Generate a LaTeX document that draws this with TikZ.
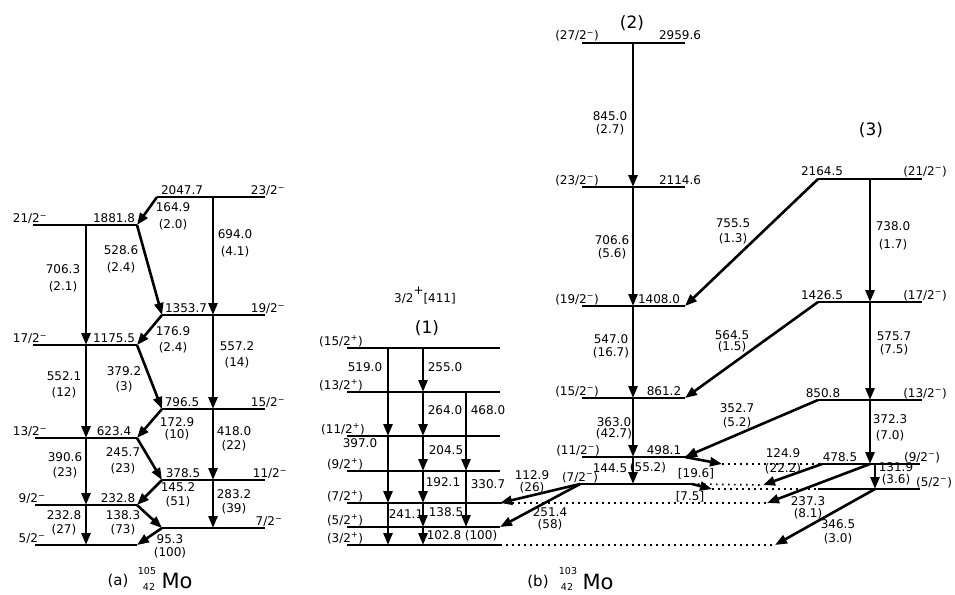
\documentclass[tikz,border=0pt]{standalone}
\usepackage{fontspec}
\setmainfont{DejaVu Sans}
\usetikzlibrary{arrows.meta}

\tikzset{
  level/.style={line width=1.8pt},
  ext/.style={line width=1.7pt, dash pattern=on 1.7pt off 4.3pt},
  gam/.style={line width=2.6pt, -{Triangle[length=12pt,width=9pt]}},
  en/.style={anchor=base, inner sep=0pt, font=\fontsize{12}{14}\selectfont},
  gl/.style={align=center, inner sep=0pt, font=\fontsize{12}{15}\selectfont},
  band/.style={inner sep=0pt, font=\fontsize{17}{20}\selectfont},
  nuc/.style={inner sep=0pt, font=\fontsize{9.5}{11}\selectfont},
}
% level: name, x left, x right, y
\newcommand{\lvl}[4]{\draw[level] (#2,#4) coordinate (#1l) -- (#3,#4) coordinate (#1r);}
\newcommand{\mn}{\textsuperscript{−}}
\newcommand{\pl}{\textsuperscript{+}}

\begin{document}
\begin{tikzpicture}[x=1pt, y=-1pt]
  \useasboundingbox (0,0) rectangle (955,594);

  % columns of the vertical transitions
  \coordinate (xa1) at (86,0);
  \coordinate (xa2) at (213,0);
  \coordinate (xb1) at (388,0);
  \coordinate (xb2) at (423,0);
  \coordinate (xb3) at (466,0);
  \coordinate (xc) at (633,0);
  \coordinate (xd1) at (870,0);
  \coordinate (xd2) at (875,0);

  % ---------------- (a) 105Mo ----------------
  \lvl{a2047}{157}{265}{197}
  \lvl{a1881}{33}{137}{225}
  \lvl{a1353}{162}{265}{315}
  \lvl{a1175}{33}{137}{345}
  \lvl{a796}{162}{265}{409}
  \lvl{a623}{35}{137}{438}
  \lvl{a378}{162}{265}{480}
  \lvl{a232}{35}{137}{505}
  \lvl{a95}{162}{265}{528}
  \lvl{a0}{35}{137}{545}

  \node[en] (ea2047) at (182,194.5) {2047.7};
  \node[en] (sa2047) at (268,194.5) {23/2\mn};
  \node[en] (sa1881) at (30,222.5) {21/2\mn};
  \node[en] (ea1881) at (114,222.5) {1881.8};
  \node[en] (ea1353) at (186,312.5) {1353.7};
  \node[en] (sa1353) at (268,312.5) {19/2\mn};
  \node[en] (sa1175) at (30,342.5) {17/2\mn};
  \node[en] (ea1175) at (114,342.5) {1175.5};
  \node[en] (ea796) at (182,406.5) {796.5};
  \node[en] (sa796) at (268,406.5) {15/2\mn};
  \node[en] (sa623) at (30,435.5) {13/2\mn};
  \node[en] (ea623) at (114,435.5) {623.4};
  \node[en] (ea378) at (183,477.5) {378.5};
  \node[en] (sa378) at (270,477.5) {11/2\mn};
  \node[en] (sa232) at (32,502.5) {9/2\mn};
  \node[en] (ea232) at (118,502.5) {232.8};
  \node[en] (sa95) at (269,525.5) {7/2\mn};
  \node[en] (sa0) at (32,542.5) {5/2\mn};

  \draw[gam] (a2047l) -- (a1881r);
  \draw[gam] (a2047l -| xa2) -- (a1353l -| xa2);
  \draw[gam] (a1881l -| xa1) -- (a1175l -| xa1);
  \draw[gam] (a1881r) -- (a1353l);
  \draw[gam] (a1353l) -- (a1175r);
  \draw[gam] (a1353l -| xa2) -- (a796l -| xa2);
  \draw[gam] (a1175l -| xa1) -- (a623l -| xa1);
  \draw[gam] (a1175r) -- (a796l);
  \draw[gam] (a796l) -- (a623r);
  \draw[gam] (a796l -| xa2) -- (a378l -| xa2);
  \draw[gam] (a623l -| xa1) -- (a232l -| xa1);
  \draw[gam] (a623r) -- (a378l);
  \draw[gam] (a378l) -- (a232r);
  \draw[gam] (a378l -| xa2) -- (a95l -| xa2);
  \draw[gam] (a232l -| xa1) -- (a0l -| xa1);
  \draw[gam] (a232r) -- (a95l);
  \draw[gam] (a95l) -- (a0r);

  \node[gl] (g164) at (173,216) {164.9\\[2pt](2.0)};
  \node[gl] (g694) at (235,243) {694.0\\[2pt](4.1)};
  \node[gl] (g706) at (63,278) {706.3\\[2pt](2.1)};
  \node[gl] (g528) at (121,259) {528.6\\[2pt](2.4)};
  \node[gl] (g176) at (173,340) {176.9\\[1pt](2.4)};
  \node[gl] (g557) at (237,355) {557.2\\[1pt](14)};
  \node[gl] (g552) at (64,385) {552.1\\[1pt](12)};
  \node[gl] (g379) at (124,379) {379.2\\(3)};
  \node[gl] (g172) at (177,429) {172.9\\[-3pt](10)};
  \node[gl] (g418) at (234,439) {418.0\\[-1pt](22)};
  \node[gl] (g390) at (65,465) {390.6\\(23)};
  \node[gl] (g245) at (123,461) {245.7\\[1pt](23)};
  \node[gl] (g145) at (178,495) {145.2\\[-1pt](51)};
  \node[gl] (g283) at (234,502) {283.2\\[-1pt](39)};
  \node[gl] (g232) at (64,523) {232.8\\[-1pt](27)};
  \node[gl] (g138) at (123,523) {138.3\\[-1pt](73)};
  \node[gl] (g95) at (170,546) {95.3\\[-2pt](100)};

  \node[inner sep=0pt, font=\fontsize{15}{17}\selectfont] (capa) at (118,581) {(a)};
  \node[nuc] (aa) at (147,571) {105};
  \node[nuc] (za) at (149,587) {42};
  \node[inner sep=0pt, font=\fontsize{21}{23}\selectfont] (moa) at (177,581) {Mo};

  % ---------------- (b) 103Mo, band (1) ----------------
  \lvl{b15}{347}{500}{348}
  \lvl{b13}{347}{500}{392}
  \lvl{b11}{347}{500}{436}
  \lvl{b9}{347}{500}{471}
  \lvl{b7}{347}{500}{503}
  \lvl{b5}{347}{500}{527}
  \lvl{b3}{347}{500}{545}

  \node[inner sep=0pt, font=\fontsize{12}{14}\selectfont] (k411) at (425,296) {3/2\raisebox{8pt}{+}[411]};
  \node[band] (bd1) at (427,328) {(1)};

  \node[en] (sb15) at (341,345) {(15/2\pl)};
  \node[en] (sb13) at (341,389) {(13/2\pl)};
  \node[en] (sb11) at (343,433) {(11/2\pl)};
  \node[en] (sb9) at (345,468) {(9/2\pl)};
  \node[en] (sb7) at (345,500) {(7/2\pl)};
  \node[en] (sb5) at (345,524) {(5/2\pl)};
  \node[en] (sb3) at (345,542) {(3/2\pl)};

  \draw[gam] (b15l -| xb1) -- (b11l -| xb1);
  \draw[gam] (b15l -| xb2) -- (b13l -| xb2);
  \draw[gam] (b13l -| xb2) -- (b11l -| xb2);
  \draw[gam] (b13l -| xb3) -- (b9l -| xb3);
  \draw[gam] (b11l -| xb1) -- (b7l -| xb1);
  \draw[gam] (b11l -| xb2) -- (b9l -| xb2);
  \draw[gam] (b9l -| xb2) -- (b7l -| xb2);
  \draw[gam] (b9l -| xb3) -- (b5l -| xb3);
  \draw[gam] (b7l -| xb1) -- (b3l -| xb1);
  \draw[gam] (b7l -| xb2) -- (b5l -| xb2);
  \draw[gam] (b5l -| xb2) -- (b3l -| xb2);

  \node[gl] (g519) at (365,367) {519.0};
  \node[gl] (g255) at (445,367) {255.0};
  \node[gl] (g264) at (445,410) {264.0};
  \node[gl] (g468) at (488,410) {468.0};
  \node[gl] (g397) at (360,443) {397.0};
  \node[gl] (g204) at (446,450) {204.5};
  \node[gl] (g192) at (443,482) {192.1};
  \node[gl] (g330) at (488,484) {330.7};
  \node[gl] (g241) at (406,514) {241.1};
  \node[gl] (g138b) at (446,512) {138.5};
  \node[gl] (g102) at (462,536) {102.8 (100)};

  % ---------------- band (2) ----------------
  \lvl{c2959}{582}{685}{43}
  \lvl{c2114}{582}{685}{187}
  \lvl{c1408}{582}{685}{306}
  \lvl{c861}{582}{685}{398}
  \lvl{c498}{582}{685}{457}
  \lvl{c354}{580}{692}{484}

  \node[band] (bd2) at (632,23) {(2)};
  \node[en] (sc2959) at (577,40) {(27/2\mn)};
  \node[en] (ec2959) at (680,40) {2959.6};
  \node[en] (sc2114) at (577,184) {(23/2\mn)};
  \node[en] (ec2114) at (680,184) {2114.6};
  \node[en] (sc1408) at (577,303) {(19/2\mn)};
  \node[en] (ec1408) at (659,303) {1408.0};
  \node[en] (sc861) at (577,395) {(15/2\mn)};
  \node[en] (ec861) at (664,395) {861.2};
  \node[en] (sc498) at (578,454) {(11/2\mn)};
  \node[en] (ec498) at (664,454) {498.1};
  \node[en] (sc354) at (580,481) {(7/2\mn)};

  \draw[gam] (c2959l -| xc) -- (c2114l -| xc);
  \draw[gam] (c2114l -| xc) -- (c1408l -| xc);
  \draw[gam] (c1408l -| xc) -- (c861l -| xc);
  \draw[gam] (c861l -| xc) -- (c498l -| xc);
  \draw[gam] (c498l -| xc) -- (c354l -| xc);
  \draw[gam] (c354l) -- (b7r);
  \draw[gam] (c354l) -- (b5r);

  \node[gl] (g845) at (610,123) {845.0\\[-2pt](2.7)};
  \node[gl] (g706b) at (612,247) {706.6\\[-2pt](5.6)};
  \node[gl] (g547) at (611,346) {547.0\\[-2pt](16.7)};
  \node[gl] (g363) at (614,428) {363.0\\[-4pt](42.7)};
  \node[gl] (g144) at (610,468) {144.5};
  \node[gl] (i144) at (648,468) {(55.2)};
  \node[gl] (g112) at (532,482) {112.9\\[-3pt](26)};
  \node[gl] (g251) at (550,519) {251.4\\[-3pt](58)};

  % ---------------- band (3) ----------------
  \lvl{d2164}{818}{922}{179}
  \lvl{d1426}{818}{922}{302}
  \lvl{d850}{818}{922}{400}
  \lvl{d478}{822}{920}{464}
  \lvl{d346}{818}{920}{489}

  \node[band] (bd3) at (871,130) {(3)};
  \node[en] (ed2164) at (822,175) {2164.5};
  \node[en] (sd2164) at (925,175) {(21/2\mn)};
  \node[en] (ed1426) at (822,299) {1426.5};
  \node[en] (sd1426) at (925,299) {(17/2\mn)};
  \node[en] (ed850) at (823,397) {850.8};
  \node[en] (sd850) at (925,397) {(13/2\mn)};
  \node[en] (ed478) at (840,461) {478.5};
  \node[en] (sd478) at (922,461) {(9/2\mn)};
  \node[en] (sd346) at (934,486) {(5/2\mn)};

  % dotted continuations
  \coordinate (t72) at (763,485);
  \coordinate (t52) at (712,489);
  \coordinate (t92) at (722,464);
  \coordinate (t7p) at (767,503);
  \coordinate (t0) at (775,545);
  \draw[ext] (b7r) -- (t7p);
  \draw[ext] (b3r) -- (t0);
  \draw[ext] (c354r) -- (t72);
  \draw[ext] (t52) -- (d346l);
  \draw[ext] (t92) -- (d478l);

  \draw[gam] (d2164l -| xd1) -- (d1426l -| xd1);
  \draw[gam] (d1426l -| xd1) -- (d850l -| xd1);
  \draw[gam] (d850l -| xd1) -- (d478l -| xd1);
  \draw[gam] (d478l -| xd2) -- (d346l -| xd2);
  \draw[gam] (d2164l) -- (c1408r);
  \draw[gam] (d1426l) -- (c861r);
  \draw[gam] (d850l) -- (c498r);
  \draw[gam] (d478l) -- (t72);
  \draw[gam] (d478l -| xd1) -- (t7p);
  \draw[gam] (d346l -| xd2) -- (t0);
  \draw[gam] (c498r) -- (t92);
  \draw[gam] (c354r) -- (t52);

  \node[gl] (g738) at (893,236) {738.0\\[3pt](1.7)};
  \node[gl] (g575) at (894,343) {575.7\\[-2pt](7.5)};
  \node[gl] (g372) at (890,428) {372.3\\[1pt](7.0)};
  \node[gl] (g131) at (896,474) {131.9\\[-3pt](3.6)};
  \node[gl] (g755) at (733,231) {755.5\\(1.3)};
  \node[gl] (g564) at (732,341) {564.5\\[-4pt](1.5)};
  \node[gl] (g352) at (737,416) {352.7\\[-1pt](5.2)};
  \node[gl] (g124) at (783,461) {124.9\\(22.2)};
  \node[gl] (g237) at (808,508) {237.3\\[-3pt](8.1)};
  \node[gl] (g346) at (838,532) {346.5\\[-1pt](3.0)};
  \node[gl] (g196) at (696,474) {[19.6]};
  \node[gl] (g75) at (690,497) {[7.5]};

  \node[inner sep=0pt, font=\fontsize{15}{17}\selectfont] (capb) at (538,582) {(b)};
  \node[nuc] (ab) at (568,571) {103};
  \node[nuc] (zb) at (567,587) {42};
  \node[inner sep=0pt, font=\fontsize{21}{23}\selectfont] (mob) at (598,582) {Mo};
\end{tikzpicture}
\end{document}
